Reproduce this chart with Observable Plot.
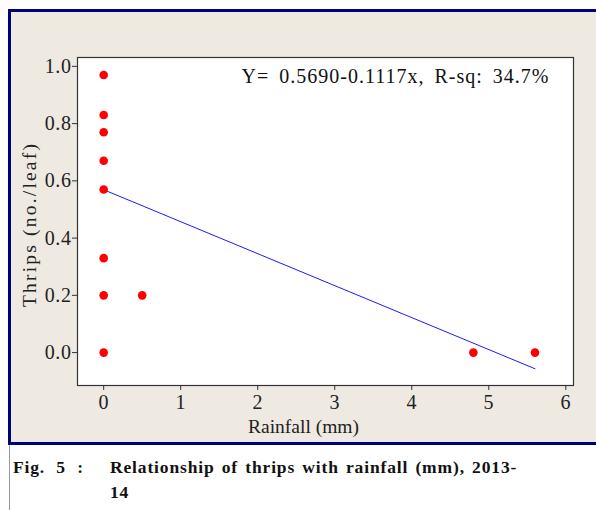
<!DOCTYPE html>
<html>
<head>
<meta charset="utf-8">
<script src="https://cdn.jsdelivr.net/npm/d3@7"></script>
<script src="https://cdn.jsdelivr.net/npm/@observablehq/plot@0.6"></script>
<style>
  html, body { margin: 0; padding: 0; background: #fff; }
  body { width: 596px; height: 510px; position: relative; overflow: hidden; font-family: "Liberation Serif", serif; }
  #frame { position: absolute; left: 8px; top: 9px; width: 588px; height: 430px;
           border-top: 3px solid #00007a; border-left: 3px solid #00007a; border-bottom: 3px solid #00007a;
           background: #eeeae1; }
  #chart svg { display: block; }
  #sideline { position: absolute; left: 9px; top: 445px; width: 1px; height: 65px; background: #999; }
  .cap { position: absolute; font-weight: bold; font-size: 17.5px; color: #111; white-space: nowrap; letter-spacing: 0.85px; word-spacing: 2px; }
  .eq { letter-spacing: 1px; word-spacing: 4px; }
  .ylab { letter-spacing: 2.2px; }
  .tk { letter-spacing: 0.6px; }
</style>
</head>
<body>
<div id="frame"><div id="chart"></div></div>
<div id="sideline"></div>
<div class="cap" style="left:13px; top:457px; word-spacing:6px;">Fig. 5 :</div>
<div class="cap" style="left:110px; top:457px;">Relationship of thrips with rainfall (mm), 2013-</div>
<div class="cap" style="left:110px; top:482px;">14</div>
<script>
// Data
const rainfall = [0, 0, 0, 0, 0, 0, 0, 0, 0.5, 4.8, 5.6];
const thrips   = [0.97, 0.83, 0.77, 0.67, 0.57, 0.33, 0.20, 0.00, 0.20, 0.00, 0.00];
const intercept = 0.5690;
const slope = -0.1117;
const fitX = [0, 5.6];
const xTicks = [0, 1, 2, 3, 4, 5, 6];
const yTicks = [0, 0.2, 0.4, 0.6, 0.8, 1.0];
const equation = "Y= 0.5690-0.1117x, R-sq: 34.7%";

const points = rainfall.map((r, i) => ({x: r, y: thrips[i]}));
const fit = fitX.map(x => ({x, y: intercept + slope * x}));

const plot = Plot.plot({
  width: 585,
  height: 430,
  marginLeft: 66,
  marginTop: 45,
  marginRight: 23,
  marginBottom: 57,
  style: { background: "transparent", fontFamily: "Liberation Serif, serif", fontSize: "20px", color: "#222" },
  x: { domain: [-0.34, 6.1] },
  y: { domain: [-0.115, 1.031] },
  marks: [
    Plot.frame({ fill: "white", stroke: "#333", strokeWidth: 1.2 }),
    Plot.axisX({ ticks: xTicks, tickFormat: d3.format("d"), tickSize: 5, tickPadding: 4, label: null, stroke: "#333", fontSize: 20, className: "tk" }),
    Plot.axisY({ ticks: yTicks, tickFormat: d3.format(".1f"), tickSize: 5, tickPadding: 1, label: null, stroke: "#333", fontSize: 20, className: "tk" }),
    Plot.line(fit, { x: "x", y: "y", stroke: "#1a1aff", strokeWidth: 1 }),
    Plot.dot(points, { x: "x", y: "y", r: 4.3, fill: "#ff0000", stroke: "none" }),
    Plot.text([equation], { frameAnchor: "top-right", dx: -24, dy: 11, textAnchor: "end", lineAnchor: "top", fontSize: 20, fill: "#111", className: "eq" }),
    Plot.text(["Rainfall (mm)"], { frameAnchor: "bottom", dx: -22, dy: 34, textAnchor: "middle", lineAnchor: "top", fontSize: 19.5, fill: "#222" }),
    Plot.text(["Thrips (no./leaf)"], { frameAnchor: "left", dx: -48, dy: 3, rotate: -90, textAnchor: "middle", lineAnchor: "middle", fontSize: 19.5, fill: "#222", className: "ylab" })
  ]
});
document.getElementById("chart").appendChild(plot);
</script>
</body>
</html>
